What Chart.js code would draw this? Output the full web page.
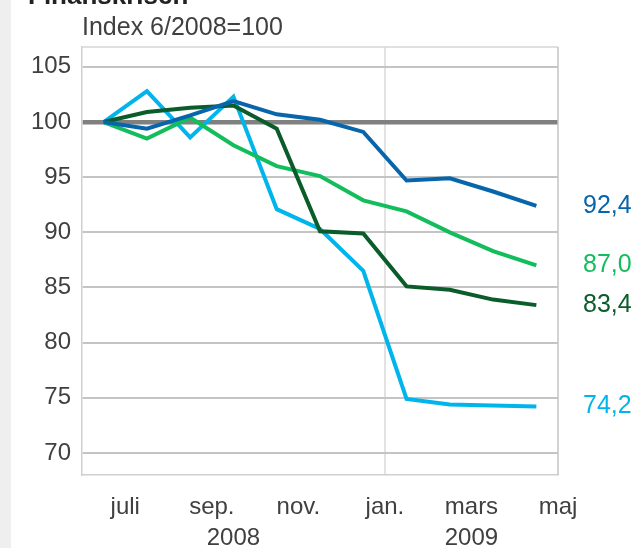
<!DOCTYPE html>
<html>
<head>
<meta charset="utf-8">
<script src="https://cdn.jsdelivr.net/npm/chart.js@4/dist/chart.umd.min.js"></script>
<style>
  body { margin: 0; background: #fff; }
  canvas { display: block; }
</style>
</head>
<body>
<canvas id="graf" width="635" height="548"></canvas>
<script>
const manader = ['juni', 'juli', 'aug.', 'sep.', 'okt.', 'nov.', 'dec.', 'jan.', 'feb.', 'mars', 'april'];
const serieBla = [100, 99.4, 100.6, 101.9, 100.7, 100.2, 99.1, 94.7, 94.9, 93.7, 92.4];
const serieMorkgron = [100, 100.9, 101.3, 101.5, 99.4, 90.1, 89.9, 85.1, 84.8, 83.9, 83.4];
const serieGron = [100, 98.5, 100.4, 97.9, 96.0, 95.1, 92.9, 91.9, 90.0, 88.3, 87.0];
const serieCyan = [100, 102.8, 98.6, 102.3, 92.1, 90.3, 86.5, 74.9, 74.4, 74.3, 74.2];

const yTicks = [70, 75, 80, 85, 90, 95, 100, 105];
const xTickPos = [1, 3, 5, 7, 9, 11];
const xTickText = ['juli', 'sep.', 'nov.', 'jan.', 'mars', 'maj'];
const ar = [{ text: '2008', from: 0, to: 7 }, { text: '2009', from: 7, to: 11 }];

const font = 'Liberation Sans, Arial, sans-serif';
const textFarg = '#404040';

function punkter(serie) {
  return serie.map((v, i) => ({ x: i + 0.5, y: v }));
}

function linje(serie, farg) {
  return {
    data: punkter(serie),
    borderColor: farg,
    borderWidth: 4,
    pointRadius: 0,
    tension: 0,
    fill: false
  };
}

const extraPlugin = {
  id: 'extra',
  beforeDraw(chart) {
    const c = chart.ctx;
    c.save();
    c.fillStyle = '#efefef';
    c.fillRect(0, 0, 11, chart.height);
    c.fillStyle = '#222';
    c.font = 'bold 26px ' + font;
    c.textBaseline = 'alphabetic';
    c.fillText('Finanskrisen', 28, 4);
    c.fillStyle = textFarg;
    c.font = '25px ' + font;
    c.fillText('Index 6/2008=100', 82, 35);
    c.restore();
  },
  beforeDatasetsDraw(chart) {
    const c = chart.ctx;
    const a = chart.chartArea;
    c.save();
    c.lineWidth = 1.5;
    c.strokeStyle = '#d6d6d6';
    c.beginPath();
    c.moveTo(a.left, a.top);
    c.lineTo(a.right, a.top);
    c.stroke();
    c.strokeStyle = '#c4c4c4';
    c.beginPath();
    c.moveTo(a.right, a.top);
    c.lineTo(a.right, a.bottom);
    c.stroke();
    c.restore();
  },
  afterDraw(chart) {
    const c = chart.ctx;
    const xs = chart.scales.x;
    const ys = chart.scales.y;
    c.save();
    c.font = '24px ' + font;
    c.fillStyle = textFarg;
    c.textAlign = 'center';
    c.textBaseline = 'middle';
    ar.forEach(a => {
      c.fillText(a.text, xs.getPixelForValue((a.from + a.to) / 2), 538);
    });
    c.font = '25px ' + font;
    c.textAlign = 'left';
    chart.data.datasets.forEach(ds => {
      const sista = ds.data[ds.data.length - 1].y;
      c.fillStyle = ds.borderColor;
      c.fillText(sista.toFixed(1).replace('.', ','), 583, ys.getPixelForValue(sista));
    });
    c.restore();
  }
};

new Chart(document.getElementById('graf'), {
  type: 'line',
  data: {
    datasets: [
      linje(serieBla, '#0765ac'),
      linje(serieMorkgron, '#0a5c2a'),
      linje(serieGron, '#14bd5c'),
      linje(serieCyan, '#00b5ec')
    ]
  },
  options: {
    responsive: false,
    animation: false,
    layout: { padding: { top: 47, right: 77, left: 0, bottom: 0 } },
    plugins: { legend: { display: false }, tooltip: { enabled: false } },
    scales: {
      x: {
        type: 'linear',
        min: 0,
        max: 11,
        afterFit: s => { s.height = 73; },
        afterBuildTicks: s => { s.ticks = xTickPos.map(v => ({ value: v })); },
        border: { color: '#d0d0d0', width: 1.5 },
        grid: {
          drawTicks: false,
          lineWidth: 2,
          color: ctx => ctx.tick && ctx.tick.value === 7 ? '#e2e2e2' : 'rgba(0,0,0,0)'
        },
        ticks: {
          autoSkip: false,
          maxRotation: 0,
          padding: 18,
          color: textFarg,
          font: { family: font, size: 24 },
          callback: v => xTickText[xTickPos.indexOf(v)]
        }
      },
      y: {
        min: 68,
        max: 106.8,
        afterFit: s => { s.width = 82; },
        afterBuildTicks: s => { s.ticks = yTicks.map(v => ({ value: v })); },
        border: { color: '#d0d0d0', width: 1.5 },
        grid: {
          drawTicks: false,
          color: ctx => ctx.tick && ctx.tick.value === 100 ? '#808080' : '#c4c4c4',
          lineWidth: ctx => ctx.tick && ctx.tick.value === 100 ? 4.5 : 2
        },
        ticks: {
          padding: 11,
          color: textFarg,
          font: { family: font, size: 24 }
        }
      }
    }
  },
  plugins: [extraPlugin]
});
</script>
</body>
</html>
